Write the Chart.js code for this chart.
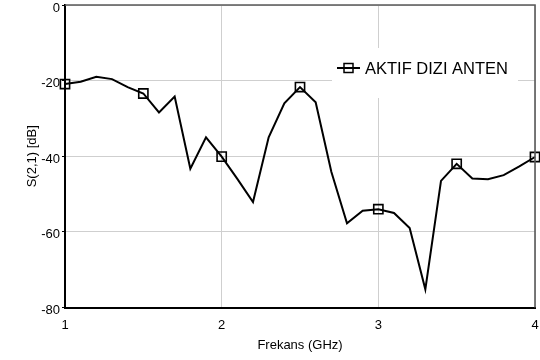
<!DOCTYPE html>
<html lang="tr">
<head>
  <meta charset="UTF-8">
  <title>S(2,1)</title>
  <script src="https://cdn.jsdelivr.net/npm/chart.js"></script>
  <style>
    body { margin: 0; background: #fff; }
    #wrap { width: 540px; height: 360px; }
  </style>
</head>
<body>
  <div id="wrap"><canvas id="s21Chart" width="540" height="360"></canvas></div>

  <script>
    // frekans adimi 0.1 GHz
    const frekans = [1.0, 1.1, 1.2, 1.3, 1.4, 1.5, 1.6, 1.7, 1.8, 1.9,
                     2.0, 2.1, 2.2, 2.3, 2.4, 2.5, 2.6, 2.7, 2.8, 2.9,
                     3.0, 3.1, 3.2, 3.3, 3.4, 3.5, 3.6, 3.7, 3.8, 3.9, 4.0];
    const s21 = [-20.9, -20.3, -19.0, -19.6, -21.7, -23.4, -28.4, -24.2, -43.3, -35.0,
                 -40.1, -46.0, -52.1, -35.0, -26.0, -21.7, -25.7, -44.1, -57.7, -54.4,
                 -54.0, -55.0, -59.0, -75.2, -46.5, -42.0, -45.9, -46.1, -45.0, -42.7, -40.2];
    const seriesName = 'AKTIF DIZI ANTEN';
    const xTicks = [1, 2, 3, 4];
    const yTicks = [-80, -60, -40, -20, 0];

    const FONT = 'Liberation Sans, Arial, Helvetica, sans-serif';

    // cerceve (ust ve sag) + grafik icindeki legend
    const frameLegend = {
      id: 'frameLegend',
      afterDraw(chart) {
        const ctx = chart.ctx;
        const a = chart.chartArea;
        ctx.save();
        ctx.strokeStyle = '#5a5a5a';
        ctx.lineWidth = 1.6;
        ctx.beginPath();
        ctx.moveTo(a.left, a.top);
        ctx.lineTo(a.right, a.top);
        ctx.lineTo(a.right, a.bottom);
        ctx.stroke();

        // legend kutusu
        const bx = a.left + 267, by = 48, bw = 186, bh = 50;
        ctx.fillStyle = '#fff';
        ctx.fillRect(bx, by, bw, bh);
        const cy = by + 20;
        ctx.strokeStyle = '#000';
        ctx.lineWidth = 2;
        ctx.beginPath();
        ctx.moveTo(bx + 5, cy);
        ctx.lineTo(bx + 28, cy);
        ctx.stroke();
        ctx.lineWidth = 1.5;
        ctx.strokeRect(bx + 12, cy - 4.5, 9, 9);
        ctx.fillStyle = '#000';
        ctx.font = '16.5px ' + FONT;
        ctx.textBaseline = 'middle';
        ctx.textAlign = 'left';
        ctx.fillText(seriesName, bx + 33, cy + 1);
        ctx.restore();
      }
    };

    const ctx = document.getElementById('s21Chart').getContext('2d');
    new Chart(ctx, {
      type: 'line',
      data: {
        datasets: [{
          label: seriesName,
          data: frekans.map((f, i) => ({ x: f, y: s21[i] })),
          borderColor: '#000',
          borderWidth: 2,
          tension: 0,
          pointStyle: 'rect',
          pointRadius: c => (c.dataIndex % 5 === 0 ? 6.5 : 0),
          pointHoverRadius: c => (c.dataIndex % 5 === 0 ? 6.5 : 0),
          pointBorderWidth: 1.6,
          pointBorderColor: '#000',
          pointBackgroundColor: 'rgba(0,0,0,0)',
          clip: false
        }]
      },
      options: {
        responsive: false,
        animation: false,
        events: [],
        layout: { autoPadding: false, padding: { top: 5, right: 5, left: 0, bottom: 0 } },
        plugins: {
          legend: { display: false },
          tooltip: { enabled: false }
        },
        scales: {
          x: {
            type: 'linear',
            min: 1,
            max: 4,
            afterBuildTicks: s => { s.ticks = xTicks.map(v => ({ value: v })); },
            afterFit: s => { s.height = 52.5; s.paddingLeft = 0; s.paddingRight = 0; },
            grid: { color: '#cfcfcf', lineWidth: 1, drawTicks: false },
            border: { color: '#000', width: 2 },
            ticks: { color: '#000', padding: 10, maxRotation: 0, font: { family: FONT, size: 13 } },
            title: {
              display: true,
              text: 'Frekans (GHz)',
              color: '#000',
              font: { family: FONT, size: 13 },
              padding: { top: 0, bottom: 7 }
            }
          },
          y: {
            min: -80,
            max: 0,
            afterBuildTicks: s => { s.ticks = yTicks.map(v => ({ value: v })); },
            afterFit: s => { s.width = 65; s.paddingTop = 0; s.paddingBottom = 0; },
            grid: { color: '#cfcfcf', lineWidth: 1, tickLength: 3, tickColor: '#000' },
            border: { color: '#000', width: 2 },
            ticks: { color: '#000', padding: 2, labelOffset: 3, font: { family: FONT, size: 13 } },
            title: {
              display: true,
              text: 'S(2,1) [dB]',
              color: '#000',
              font: { family: FONT, size: 13 },
              padding: { top: 25, bottom: 0 }
            }
          }
        }
      },
      plugins: [frameLegend]
    });
  </script>
</body>
</html>
